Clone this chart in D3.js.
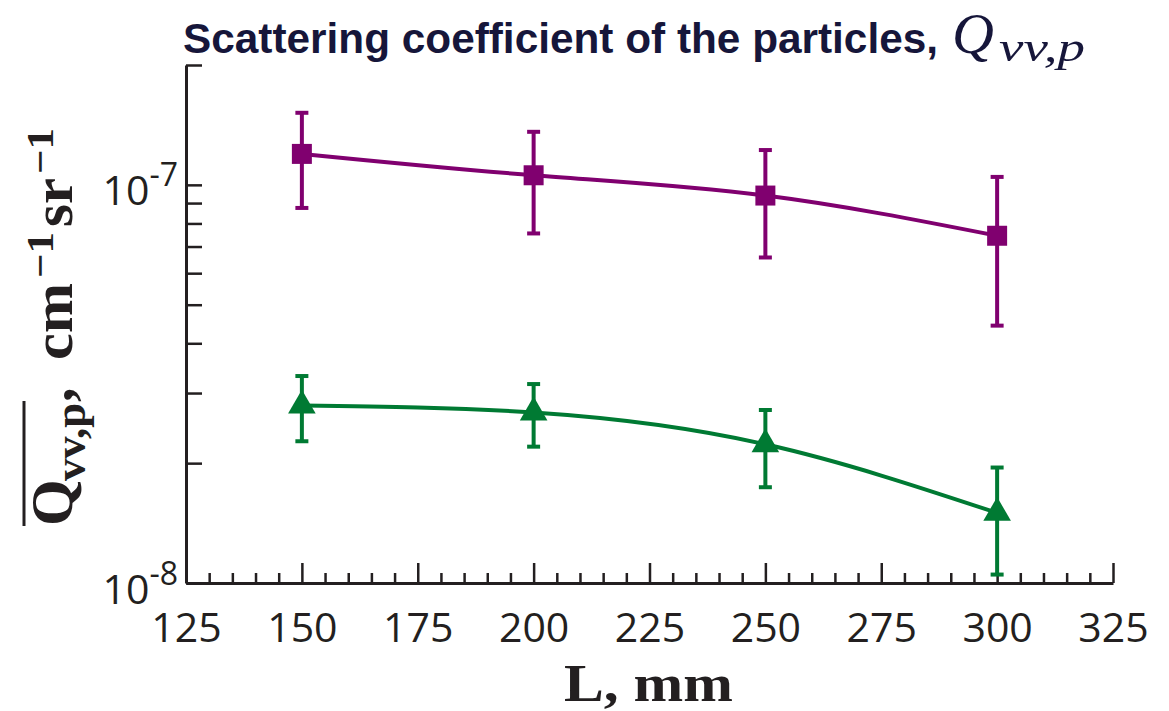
<!DOCTYPE html>
<html>
<head>
<meta charset="utf-8">
<style>
  body { margin: 0; background: #fff; }
  svg { display: block; }
</style>
</head>
<body>
<svg></svg>
<script src="https://cdn.jsdelivr.net/npm/d3@7"></script>
<script>

// data
var lengths = [150, 200, 250, 300];
var squareValues = [1.196e-7, 1.057e-7, 9.40e-8, 7.45e-8];
var squareErrors = [3.21e-8, 3.02e-8, 2.83e-8, 3.02e-8];
var triangleValues = [2.79e-8, 2.68e-8, 2.23e-8, 1.50e-8];
var triangleErrors = [0.52e-8, 0.48e-8, 0.49e-8, 0.45e-8];

var xMajorTicks = [125, 150, 175, 200, 225, 250, 275, 300, 325];
var xMinorTicks = d3.range(130, 325, 5).filter(v => v % 25 !== 0);
var yTicks = [1e-8, 2e-8, 3e-8, 4e-8, 5e-8, 6e-8, 7e-8, 8e-8, 9e-8, 1e-7, 2e-7];
var yLabelExp = {"1e-8": "-8", "1e-7": "-7"};

var width = 1169,
    height = 711,
    plot = {left: 186, right: 1113, top: 65, bottom: 583},
    svg = d3.select("svg").attr("width", width).attr("height", height);

var purple = "#80006f",
    green = "#007a33",
    ink = "#231f20";

var x = d3.scaleLinear().domain([125, 325]).range([plot.left, plot.right]);
var y = d3.scaleLog().domain([1e-8, 2e-7]).range([plot.bottom, plot.top]);

// x axis: major + minor ticks pointing inward
var xAxis = svg.append("g")
    .attr("transform", "translate(0," + plot.bottom + ")")
    .call(d3.axisBottom(x).tickValues(xMajorTicks).tickSize(-20).tickSizeOuter(0).tickPadding(30));
svg.append("g")
    .attr("transform", "translate(0," + plot.bottom + ")")
    .call(d3.axisBottom(x).tickValues(xMinorTicks).tickSize(-10).tickFormat(""))
    .call(g => g.select(".domain").remove());

xAxis.selectAll("text")
    .attr("font-family", "Open Sans")
    .attr("font-size", 41)
    .attr("fill", ink);

// y axis (log)
var yAxis = svg.append("g")
    .attr("transform", "translate(" + plot.left + ",0)")
    .call(d3.axisLeft(y).tickValues(yTicks).tickSize(-16).tickSizeOuter(0).tickFormat(""));

yAxis.selectAll(".tick").each(function(d) {
  var exp = yLabelExp[d3.format(".0e")(d)];
  if (!exp) return;
  var t = d3.select(this).append("text")
      .attr("x", -8)
      .attr("y", 20)
      .attr("text-anchor", "end")
      .attr("font-family", "Open Sans")
      .attr("fill", ink);
  t.append("tspan").attr("font-size", 41).text("10");
  t.append("tspan").attr("font-size", 32).attr("dy", -19).text(exp);
});

svg.selectAll(".domain")
    .attr("stroke", ink)
    .attr("stroke-width", 3);
svg.selectAll(".tick line")
    .attr("stroke", ink)
    .attr("stroke-width", 2.5);

// curves
var line = d3.line()
    .x(d => x(d[0]))
    .y(d => y(d[1]))
    .curve(d3.curveNatural);

var series = [
  {values: squareValues, errors: squareErrors, color: purple, shape: d3.symbolSquare, size: 400},
  {values: triangleValues, errors: triangleErrors, color: green, shape: d3.symbolTriangle, size: 330}
];

series.forEach(s => {
  var pts = lengths.map((L, i) => [L, s.values[i], s.errors[i]]);
  var g = svg.append("g");

  g.append("path")
      .datum(pts)
      .attr("fill", "none")
      .attr("stroke", s.color)
      .attr("stroke-width", 4)
      .attr("d", line);

  var bars = g.selectAll(".err").data(pts).enter().append("g");
  bars.append("line")
      .attr("x1", d => x(d[0])).attr("x2", d => x(d[0]))
      .attr("y1", d => y(d[1] + d[2])).attr("y2", d => y(d[1] - d[2]));
  bars.append("line")
      .attr("x1", d => x(d[0]) - 6.5).attr("x2", d => x(d[0]) + 6.5)
      .attr("y1", d => y(d[1] + d[2])).attr("y2", d => y(d[1] + d[2]));
  bars.append("line")
      .attr("x1", d => x(d[0]) - 6.5).attr("x2", d => x(d[0]) + 6.5)
      .attr("y1", d => y(d[1] - d[2])).attr("y2", d => y(d[1] - d[2]));
  bars.selectAll("line")
      .attr("stroke", s.color)
      .attr("stroke-width", 4);

  g.selectAll(".mark").data(pts).enter().append("path")
      .attr("transform", d => "translate(" + x(d[0]) + "," + y(d[1]) + ")")
      .attr("d", d3.symbol().type(s.shape).size(s.size))
      .attr("fill", s.color);
});

// title
var title = svg.append("text")
    .attr("y", 53)
    .attr("fill", "#16163a");
title.append("tspan")
    .attr("x", 183)
    .attr("font-family", "Liberation Sans, Arial, sans-serif")
    .attr("font-weight", "bold")
    .attr("font-size", 42)
    .attr("textLength", 755)
    .attr("lengthAdjust", "spacingAndGlyphs")
    .text("Scattering coefficient of the particles,");
title.append("tspan")
    .attr("x", 952)
    .attr("font-family", "Liberation Serif, serif")
    .attr("font-style", "italic")
    .attr("font-size", 58)
    .text("Q");
title.append("tspan")
    .attr("x", 999)
    .attr("dy", 8)
    .attr("font-family", "Liberation Serif, serif")
    .attr("font-style", "italic")
    .attr("font-size", 42)
    .attr("textLength", 86)
    .attr("lengthAdjust", "spacingAndGlyphs")
    .text("vv,p");

// x title
svg.append("text")
    .attr("x", 564)
    .attr("y", 701)
    .attr("font-family", "Liberation Serif, serif")
    .attr("font-weight", "bold")
    .attr("font-size", 52)
    .attr("textLength", 169)
    .attr("lengthAdjust", "spacingAndGlyphs")
    .attr("fill", ink)
    .text("L, mm");

// y title, rotated (local x runs up the page from y = 526)
var yt = svg.append("g").attr("transform", "translate(72,526) rotate(-90)");
var ytext = yt.append("text")
    .attr("font-family", "Liberation Serif, serif")
    .attr("font-weight", "bold")
    .attr("fill", ink);
ytext.append("tspan").attr("x", 0).attr("y", 0).attr("font-size", 60).text("Q");
ytext.append("tspan").attr("x", 45).attr("y", 13).attr("font-size", 44)
    .attr("textLength", 78).attr("lengthAdjust", "spacingAndGlyphs").text("vv,p");
ytext.append("tspan").attr("x", 124).attr("y", 0).attr("font-size", 58).text(",");
ytext.append("tspan").attr("x", 166).attr("y", 0).attr("font-size", 58)
    .attr("textLength", 77).attr("lengthAdjust", "spacingAndGlyphs").text("cm");
ytext.append("tspan").attr("x", 248).attr("y", -19).attr("font-size", 38)
    .attr("textLength", 46).attr("lengthAdjust", "spacingAndGlyphs").text("\u22121");
ytext.append("tspan").attr("x", 299).attr("y", 0).attr("font-size", 58)
    .attr("textLength", 49).attr("lengthAdjust", "spacingAndGlyphs").text("sr");
ytext.append("tspan").attr("x", 352).attr("y", -19).attr("font-size", 38)
    .attr("textLength", 46).attr("lengthAdjust", "spacingAndGlyphs").text("\u22121");

yt.append("line")
    .attr("x1", 0).attr("x2", 125)
    .attr("y1", -48).attr("y2", -48)
    .attr("stroke", ink)
    .attr("stroke-width", 3);

</script>
</body>
</html>
